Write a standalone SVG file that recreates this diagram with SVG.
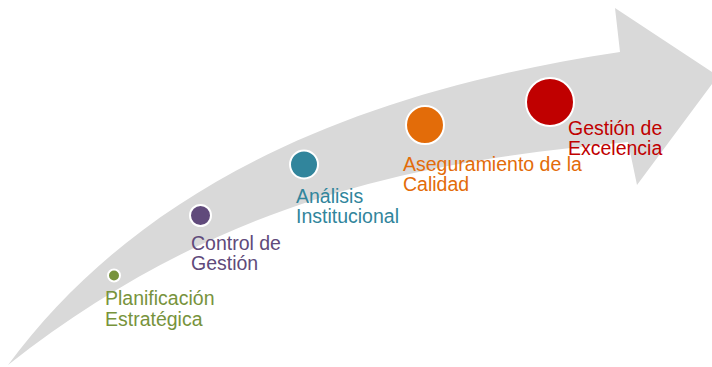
<svg xmlns="http://www.w3.org/2000/svg" width="712" height="367" viewBox="0 0 712 367">
<style>
.lbl{font-family:"Liberation Sans",Arial,sans-serif;font-size:19.5px}
.dot{stroke:#ffffff;stroke-width:2}
</style>
<rect width="712" height="367" fill="#ffffff"/>
<g id="arrow">
<path d="M8,365 C130,200 330,95 620,52 L615,8 L718,76 L637,185 L628,142 C440,160 230,190 8,365 Z" fill="#d9d9d9"/>
</g>
<g id="connectors"></g>
<g id="n1">
<circle class="dot" cx="114" cy="275.5" r="6" fill="#77933c"/>
<text class="lbl" fill="#77933c" x="105" y="305">Planificación</text>
<text class="lbl" fill="#77933c" x="105" y="326">Estratégica</text>
</g>
<g id="n2">
<circle class="dot" cx="200.5" cy="215.5" r="10.5" fill="#604a7b"/>
<text class="lbl" fill="#604a7b" x="191" y="249.5">Control de</text>
<text class="lbl" fill="#604a7b" x="191" y="270">Gestión</text>
</g>
<g id="n3">
<circle class="dot" cx="304" cy="164.5" r="14" fill="#31859c"/>
<text class="lbl" fill="#31859c" x="296" y="202.5">Análisis</text>
<text class="lbl" fill="#31859c" x="296" y="223">Institucional</text>
</g>
<g id="n4">
<circle class="dot" cx="425" cy="125" r="19" fill="#e36c09"/>
<text class="lbl" fill="#e36c09" x="403" y="170.5">Aseguramiento de la</text>
<text class="lbl" fill="#e36c09" x="403" y="191">Calidad</text>
</g>
<g id="n5">
<circle class="dot" cx="550" cy="102" r="24" fill="#c00000"/>
<text class="lbl" fill="#c00000" x="568" y="134.5">Gestión de</text>
<text class="lbl" fill="#c00000" x="568" y="154.5">Excelencia</text>
</g>
</svg>
